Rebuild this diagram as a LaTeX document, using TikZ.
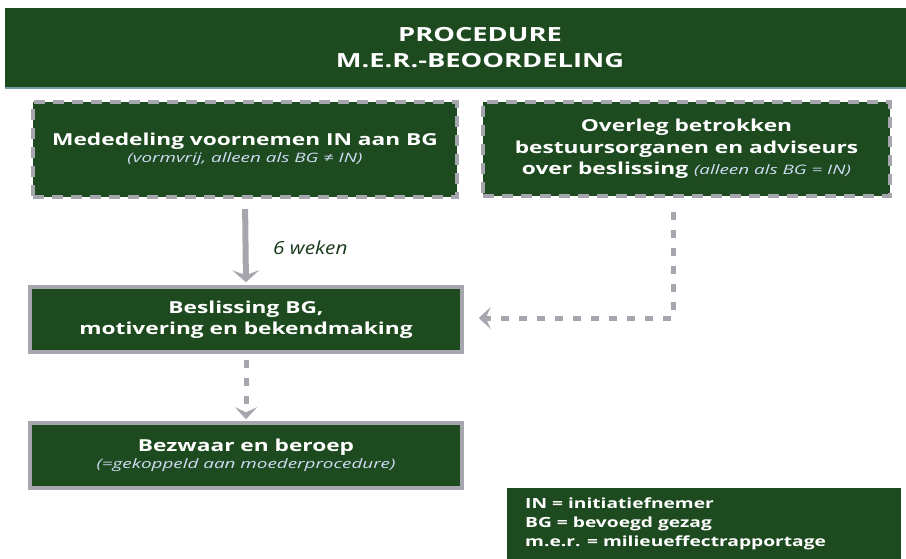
\documentclass[tikz,border=0pt]{standalone}
\usepackage{fontspec}
\setmainfont{Open Sans}
\newfontfamily\boxfont{Open Sans}[FakeStretch=1.375]
\newfontfamily\titlefont{Open Sans}[FakeStretch=1.4]
\newfontfamily\subfont{Open Sans}[FakeStretch=1.45]
\newfontfamily\legfont{Open Sans}[FakeStretch=1.37]
\newfontfamily\wkfont{Open Sans}[FakeStretch=1.15]
\usetikzlibrary{arrows.meta,calc}
\definecolor{dkgreen}{HTML}{1E4A20}
\definecolor{bordergray}{HTML}{A6A6AE}
\definecolor{subblue}{HTML}{CFDDF5}
\definecolor{lbl}{HTML}{1A3A1C}
\newcommand\subtxt[1]{{\color{subblue}\subfont\mdseries\itshape\fontsize{13}{16}\selectfont #1}}
\begin{document}
\begin{tikzpicture}[x=1pt,y=-1pt,
  header/.style={fill=dkgreen,draw=none,inner sep=0pt},
  titletext/.style={text=white,font=\titlefont\bfseries\fontsize{19.5}{26}\selectfont,align=center,inner sep=0pt},
  dashbox/.style={fill=dkgreen,draw=bordergray,line width=4pt,dash pattern=on 11pt off 8pt,text=white,font=\boxfont\bfseries\fontsize{16.5}{21.5}\selectfont,align=center,inner sep=0pt},
  solidbox/.style={fill=dkgreen,draw=bordergray,line width=3.5pt,text=white,font=\boxfont\bfseries\fontsize{16.5}{21.5}\selectfont,align=center,inner sep=0pt},
  legend/.style={text=white,font=\legfont\bfseries\fontsize{14}{19}\selectfont,align=left,inner sep=0pt},
  arr/.style={draw=bordergray,line width=6pt,-{Stealth[length=12pt,width=27pt,inset=5pt]}},
  dasharr/.style={draw=bordergray,line width=5pt,dash pattern=on 8pt off 10pt,-{Stealth[length=12pt,width=22pt,inset=5pt]}}
]
\useasboundingbox (0,0) rectangle (906,559);
\node[header,minimum width=901pt,minimum height=80pt] (hd) at (455.5,48) {};
\node[titletext] (tt) at (480,48) {PROCEDURE\\M.E.R.-BEOORDELING};
\draw[line width=1.5pt,color=bordergray!70!teal] (5,88) -- (906,88);
\node[dashbox,minimum width=424pt,minimum height=95pt] (b1) at (245,149.5)
  {Mededeling voornemen IN aan BG\\[-5pt]\subtxt{(vormvrij, alleen als BG ≠ IN)}};
\node[dashbox,minimum width=407pt,minimum height=94pt] (b2) at (686.5,149)
  {Overleg betrokken\\bestuursorganen en adviseurs\\over beslissing \subtxt{(alleen als BG = IN)}};
\node[solidbox,minimum width=432pt,minimum height=65pt] (b3) at (246,319.5)
  {Beslissing BG,\\motivering en bekendmaking};
\node[solidbox,minimum width=432pt,minimum height=65pt] (b4) at (246,455.5)
  {Bezwaar en beroep\\[-4pt]\subtxt{(=gekoppeld aan moederprocedure)}};
\node[fill=dkgreen,inner sep=0pt,minimum width=394pt,minimum height=71pt,anchor=north west] (lgbox) at (507,488) {};
\node[legend,anchor=north west] (lg) at (525,498)
  {IN = initiatiefnemer\\BG = bevoegd gezag\\m.e.r. = milieueffectrapportage};
\draw[arr,shorten <=10pt,shorten >=3pt] (b1.south) -- (b3.north);
\node[text=lbl,font=\wkfont\mdseries\itshape\fontsize{18}{22}\selectfont,anchor=west,inner sep=0pt] (wk) at (273,248) {6 weken};
\coordinate (c) at (673,318);
\draw[dasharr,shorten <=14pt,shorten >=15pt] (b2.south -| c) -- (c) -- (b3.east |- c);
\draw[dasharr,shorten <=6pt,shorten >=2pt] (b3.south) -- (b4.north);
\end{tikzpicture}
\end{document}
